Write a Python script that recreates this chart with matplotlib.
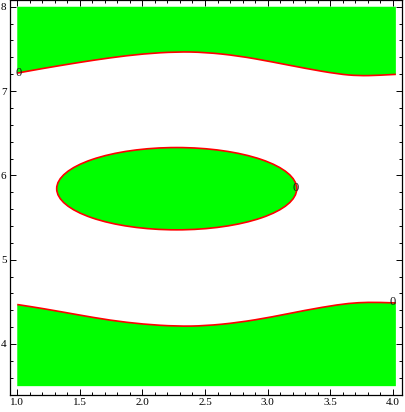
import matplotlib
matplotlib.use("Agg")
import matplotlib.pyplot as plt
import matplotlib.patches as patches
from matplotlib.path import Path
from matplotlib.ticker import MultipleLocator, FormatStrFormatter

# boundary of the upper region (contour = 0)
top_x = [1.0, 1.208, 1.475, 1.741, 2.007, 2.274, 2.50, 2.767, 3.034, 3.30, 3.566, 3.726, 3.886, 4.025]
top_y = [7.213, 7.269, 7.335, 7.395, 7.442, 7.466, 7.460, 7.418, 7.347, 7.269, 7.201, 7.181, 7.186, 7.198]

# boundary of the lower region
bot_x = [1.0, 1.208, 1.475, 1.741, 2.007, 2.274, 2.50, 2.767, 3.034, 3.30, 3.566, 3.726, 3.886, 4.025]
bot_y = [4.468, 4.420, 4.349, 4.281, 4.234, 4.210, 4.215, 4.254, 4.320, 4.400, 4.468, 4.492, 4.495, 4.487]

# closed contour in the middle
ell_center = (2.274, 5.842)
ell_width = 1.918
ell_height = 0.976

# contour labels
label_x = [1.01, 3.224, 4.0]
label_y = [7.22, 5.848, 4.50]
label_txt = ["0", "0", "0"]

y_min, y_max = 3.5, 8.0

plt.rcParams['font.family'] = ['Liberation Serif', 'DejaVu Serif']


def smooth_verts(xs, ys):
    # quadratic bezier through midpoints, so the line has no corners
    pts = list(zip(xs, ys))
    verts = [pts[0]]
    codes = [Path.MOVETO]
    if len(pts) > 2:
        m = ((pts[0][0] + pts[1][0]) / 2, (pts[0][1] + pts[1][1]) / 2)
        verts.append(m)
        codes.append(Path.LINETO)
        for i in range(1, len(pts) - 1):
            nxt = pts[i + 1]
            m = ((pts[i][0] + nxt[0]) / 2, (pts[i][1] + nxt[1]) / 2)
            if i == len(pts) - 2:
                m = nxt
            verts += [pts[i], m]
            codes += [Path.CURVE3, Path.CURVE3]
    else:
        verts.append(pts[1])
        codes.append(Path.LINETO)
    return verts, codes


fig = plt.figure(figsize=(4.05, 4.12), dpi=100)
ax = fig.add_axes([10 / 405, 17 / 412, 392 / 405, 395 / 412])

green = (0, 1, 0)
red = (1, 0, 0)

# upper region
v, c = smooth_verts(top_x, top_y)
fill_v = v + [(top_x[-1], y_max), (top_x[0], y_max), v[0]]
fill_c = c + [Path.LINETO, Path.LINETO, Path.CLOSEPOLY]
ax.add_patch(patches.PathPatch(Path(fill_v, fill_c), facecolor=green, edgecolor='none'))
ax.add_patch(patches.PathPatch(Path(v, c), facecolor='none', edgecolor=red, lw=1.2))

# lower region
v, c = smooth_verts(bot_x, bot_y)
fill_v = v + [(bot_x[-1], y_min), (bot_x[0], y_min), v[0]]
fill_c = c + [Path.LINETO, Path.LINETO, Path.CLOSEPOLY]
ax.add_patch(patches.PathPatch(Path(fill_v, fill_c), facecolor=green, edgecolor='none'))
ax.add_patch(patches.PathPatch(Path(v, c), facecolor='none', edgecolor=red, lw=1.2))

ell = patches.Ellipse(ell_center, ell_width, ell_height, facecolor=green, edgecolor=red, lw=1.2)
ax.add_patch(ell)

for x, y, t in zip(label_x, label_y, label_txt):
    ax.text(x, y, t, fontsize=9, ha='center', va='center', color='#1a1a1a')

ax.set_xlim(0.942, 4.074)
ax.set_ylim(3.395, 8.08)

ax.xaxis.set_major_locator(MultipleLocator(0.5))
ax.xaxis.set_minor_locator(MultipleLocator(0.1))
ax.yaxis.set_major_locator(MultipleLocator(1))
ax.yaxis.set_minor_locator(MultipleLocator(0.2))
ax.xaxis.set_major_formatter(FormatStrFormatter('%.1f'))

ax.tick_params(which='both', direction='in', top=True, right=True, labelsize=8, pad=2.5, width=0.7)
ax.tick_params(which='major', length=4)
ax.tick_params(which='minor', length=2.5)

for s in ax.spines.values():
    s.set_linewidth(0.9)

plt.savefig("out.png", dpi=100)
